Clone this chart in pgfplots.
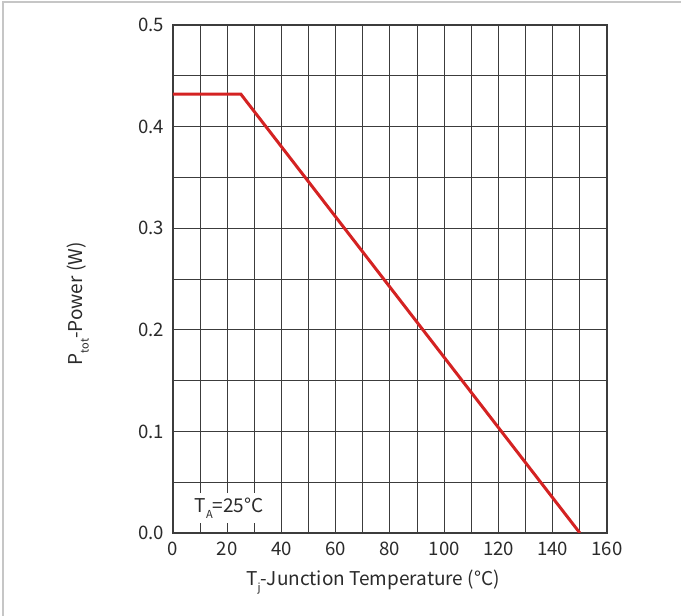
\documentclass[border=0pt]{standalone}
\usepackage{fontspec}
\setmainfont{Noto Sans CJK SC}
\usepackage{pgfplots}
\pgfplotsset{compat=1.18}
\definecolor{curvered}{HTML}{D42222}
\definecolor{gridgray}{HTML}{3C3C3C}
\definecolor{txt}{HTML}{2A2A2A}
\newcommand\lowsub[1]{\raisebox{-0.55ex}{\fontsize{5.5}{6}\selectfont #1}}
\begin{document}
\begin{tikzpicture}
% page frame (1px = 0.5pt)
\path[use as bounding box] (-86.5pt,-41.5pt) rectangle (254pt,266.5pt);
\draw[gray!45, line width=0.7pt] (-85pt,-41.5pt) -- (-85pt,265.5pt) -- (254pt,265.5pt);
\begin{axis}[
  at={(0,0)}, anchor=south west,
  width=217pt, height=254pt, scale only axis,
  xmin=0, xmax=160, ymin=0, ymax=0.5,
  xtick={0,20,...,160}, minor xtick={10,30,...,150},
  ytick={0,0.1,...,0.5}, minor ytick={0.05,0.15,...,0.45},
  grid=both,
  major grid style={gridgray, line width=0.5pt},
  minor grid style={gridgray, line width=0.5pt},
  axis line style={gridgray, line width=0.6pt},
  major tick length=0pt, minor tick length=0pt,
  tick label style={font=\fontsize{9.3}{10}\selectfont, text=txt},
  /pgf/number format/assume math mode=true,
  yticklabel style={/pgf/number format/fixed, /pgf/number format/fixed zerofill,
                    /pgf/number format/precision=1, xshift=-1pt},
  xticklabel style={yshift=-1pt},
  xlabel={T\lowsub{j}-Junction Temperature (°C)},
  ylabel={P\lowsub{tot}-Power (W)},
  label style={font=\fontsize{9.5}{11}\selectfont, text=txt},
  xlabel style={at={(axis description cs:0.461,0)}, anchor=center, yshift=-24.5pt},
  ylabel style={at={(axis description cs:0,0.451)}, anchor=center, yshift=47.5pt},
]
\addplot[curvered, line width=1.5pt, mark=none] coordinates {
  (0,0.432) (25,0.432) (150,0)};
\node[fill=white, inner sep=2.5pt, anchor=base west, text=txt,
      font=\fontsize{9.5}{11}\selectfont]
  at (axis cs:6,0.02) {T\lowsub{A}=25°C};
\end{axis}
\end{tikzpicture}
\end{document}
